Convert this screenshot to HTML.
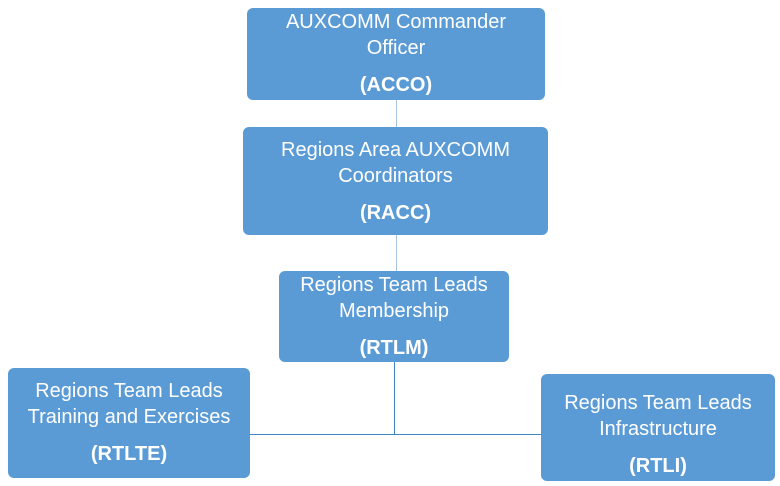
<!DOCTYPE html>
<html><head><style>
body{margin:0;width:780px;height:486px;background:#fff;position:relative;overflow:hidden;font-family:"Liberation Sans",sans-serif}
.b{position:absolute;background:#5b9bd5;border-radius:6px;color:#fff}
.t{position:absolute;left:0;right:0;text-align:center;font-size:20px;line-height:24px;white-space:nowrap}
.k{font-weight:bold}
.l{position:absolute;background:#a9c4e0}
.d{position:absolute;background:#3f86c4}
</style></head><body>
<div class="l" style="left:396px;top:100px;width:1px;height:27px"></div>
<div class="l" style="left:396px;top:235px;width:1px;height:36px"></div>
<div class="d" style="left:394px;top:362px;width:1px;height:72px"></div>
<div class="d" style="left:250px;top:434px;width:291px;height:1px"></div>

<div class="b" style="left:247px;top:8px;width:298px;height:92px">
<div class="t" style="top:2px">AUXCOMM Commander</div>
<div class="t" style="top:28px">Officer</div>
<div class="t k" style="top:65px">(ACCO)</div></div>

<div class="b" style="left:243px;top:127px;width:305px;height:108px">
<div class="t" style="top:11px">Regions Area AUXCOMM</div>
<div class="t" style="top:37px">Coordinators</div>
<div class="t k" style="top:74px">(RACC)</div></div>

<div class="b" style="left:279px;top:271px;width:230px;height:91px">
<div class="t" style="top:2px">Regions Team Leads</div>
<div class="t" style="top:28px">Membership</div>
<div class="t k" style="top:65px">(RTLM)</div></div>

<div class="b" style="left:8px;top:368px;width:242px;height:110px">
<div class="t" style="top:11px">Regions Team Leads</div>
<div class="t" style="top:37px">Training and Exercises</div>
<div class="t k" style="top:74px">(RTLTE)</div></div>

<div class="b" style="left:541px;top:374px;width:234px;height:107px">
<div class="t" style="top:17px">Regions Team Leads</div>
<div class="t" style="top:43px">Infrastructure</div>
<div class="t k" style="top:80px">(RTLI)</div></div>
</body></html>
